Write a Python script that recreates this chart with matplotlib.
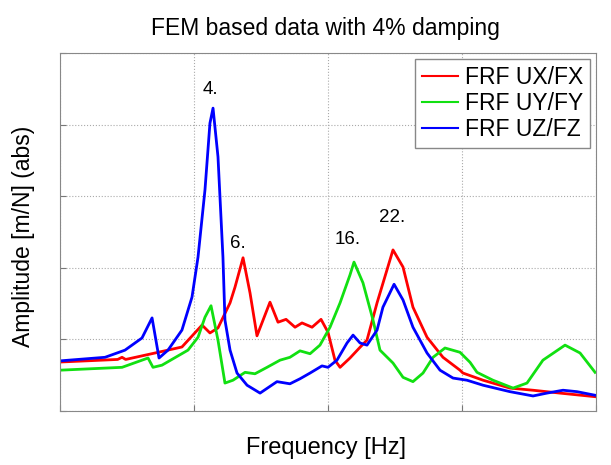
import matplotlib
matplotlib.use("Agg")
import matplotlib.pyplot as plt

plt.rcParams["font.family"] = ["Liberation Sans", "DejaVu Sans"]

# -------------------------------
# DATA
# -------------------------------
red_f = [0, 4.3, 4.63, 4.9, 7.09, 9.10, 10.60, 11.19, 11.79, 12.69, 13.06, 13.66, 14.18, 14.70,
         15.67, 16.27, 16.87, 17.54, 18.06, 18.81, 19.48, 20.00, 20.52, 20.90, 21.64, 22.39,
         22.91, 23.66, 24.85, 25.60, 26.34, 27.39, 28.58, 29.85, 30.07, 31.57, 33.58, 35.30,
         37.31, 39.93]
red_a = [0.684, 0.72, 0.75, 0.72, 0.81, 0.894, 1.20, 1.09, 1.16, 1.51, 1.73, 2.14, 1.65, 1.05,
         1.52, 1.24, 1.28, 1.17, 1.23, 1.17, 1.28, 1.10, 0.71, 0.61, 0.74, 0.89,
         0.99, 1.51, 2.25, 2.01, 1.45, 1.03, 0.75, 0.57, 0.53, 0.43, 0.32, 0.29,
         0.25, 0.20]

green_f = [0, 4.63, 6.57, 6.94, 7.61, 9.55, 10.30, 10.82, 11.27, 11.79, 12.31, 12.91, 13.81,
           14.55, 15.45, 16.42, 17.16, 17.91, 18.66, 19.40, 20.15, 20.90, 21.64, 21.94, 22.61,
           23.36, 23.88, 24.85, 25.60, 26.34, 27.09, 27.84, 28.73, 29.85, 30.60, 31.12, 32.31,
           33.81, 34.85, 36.04, 37.69, 38.81, 39.93]
green_a = [0.57, 0.61, 0.74, 0.61, 0.64, 0.85, 1.03, 1.31, 1.47, 0.99, 0.39, 0.43, 0.54,
           0.52, 0.61, 0.71, 0.75, 0.84, 0.80, 0.92, 1.17, 1.51, 1.90, 2.08, 1.79,
           1.27, 0.85, 0.67, 0.47, 0.41, 0.53, 0.75, 0.88, 0.82, 0.68, 0.54, 0.43,
           0.32, 0.39, 0.71, 0.92, 0.81, 0.54]

blue_f = [0, 3.36, 4.85, 6.12, 6.87, 7.39, 8.06, 9.10, 9.85, 10.30, 10.82, 11.19, 11.42, 11.79,
          12.16, 12.31, 12.69, 13.21, 13.96, 14.93, 16.19, 17.16, 17.91, 18.66, 19.55, 20.00,
          20.67, 21.42, 21.87, 22.39, 22.91, 23.66, 24.10, 24.93, 25.60, 26.34, 27.39, 28.36,
          29.33, 30.37, 31.57, 33.58, 35.30, 36.34, 37.54, 38.58, 39.93]
blue_a = [0.70, 0.75, 0.85, 1.02, 1.30, 0.74, 0.85, 1.13, 1.59, 2.15, 3.09, 4.02, 4.23, 3.55,
          2.15, 1.27, 0.85, 0.53, 0.36, 0.25, 0.41, 0.38, 0.45, 0.53, 0.63, 0.61,
          0.71, 0.95, 1.06, 0.95, 0.92, 1.13, 1.45, 1.77, 1.55, 1.17, 0.81, 0.57,
          0.46, 0.43, 0.36, 0.27, 0.21, 0.25, 0.29, 0.27, 0.22]

mode_labels = ["4.", "6.", "16.", "22."]
mode_f = [11.2, 13.3, 21.5, 24.8]
mode_a = [4.49, 2.34, 2.40, 2.70]

# -------------------------------
# PLOT
# -------------------------------
fig = plt.figure(figsize=(6.11, 4.65), dpi=100)
ax = fig.add_axes([60 / 611, 1 - 411 / 465, 536 / 611, 358 / 465])

ax.plot(red_f, red_a, color="#ff0000", lw=2.0, label="FRF UX/FX")
ax.plot(green_f, green_a, color="#11e011", lw=2.0, label="FRF UY/FY")
ax.plot(blue_f, blue_a, color="#0000ff", lw=2.0, label="FRF UZ/FZ")

for lab, f, a in zip(mode_labels, mode_f, mode_a):
    ax.text(f, a, lab, fontsize=13.5, ha="center", va="center")

ax.set_xlim(0, 40)
ax.set_ylim(0, 5)
ax.set_xticks([0, 10, 20, 30, 40])
ax.set_yticks([0, 1, 2, 3, 4, 5])
ax.set_xticklabels([])
ax.set_yticklabels([])
ax.tick_params(direction="in", length=4, color="#777777")
ax.grid(True, linestyle=":", color="#aaaaaa", linewidth=0.8)
for s in ax.spines.values():
    s.set_color("#888888")

leg = ax.legend(loc="upper right", fontsize=16.5, handlelength=1.6, handletextpad=0.3,
                borderaxespad=0.25, borderpad=0.3, labelspacing=0.15, fancybox=False,
                framealpha=1)
leg.get_frame().set_edgecolor("#888888")
for line in leg.get_lines():
    line.set_linewidth(1.5)

fig.text(325 / 611, 1 - 29 / 465, "FEM based data with 4% damping", fontsize=16.5,
         ha="center", va="center")
fig.text(326 / 611, 1 - 448 / 465, "Frequency [Hz]", fontsize=17, ha="center", va="center")
fig.text(24 / 611, 1 - 236 / 465, "Amplitude [m/N] (abs)", fontsize=16.5, ha="center",
         va="center", rotation=90)

plt.savefig("out.png", dpi=100)
